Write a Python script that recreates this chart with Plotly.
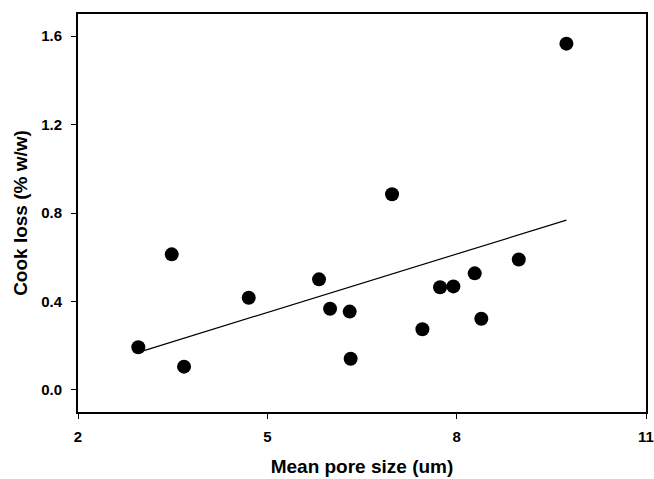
import numpy as np
import plotly.graph_objects as go

pore_size = [2.956, 3.485, 3.68, 4.705, 5.819, 5.994, 6.305, 6.32, 6.976,
             7.457, 7.737, 7.948, 8.286, 8.391, 8.984, 9.739]
cook_loss = [0.193, 0.613, 0.105, 0.417, 0.500, 0.367, 0.354, 0.141, 0.885,
             0.274, 0.464, 0.468, 0.527, 0.322, 0.590, 1.566]
x_ticks = [2, 5, 8, 11]
y_ticks = [0.0, 0.4, 0.8, 1.2, 1.6]
y_tick_text = ["0.0", "0.4", "0.8", "1.2", "1.6"]

slope, intercept = np.polyfit(pore_size, cook_loss, 1)
fit_x = [min(pore_size), max(pore_size)]
fit_y = [slope * v + intercept for v in fit_x]

font_family = "Liberation Sans, Arial, sans-serif"

fig = go.Figure()
fig.add_trace(go.Scatter(x=fit_x, y=fit_y, mode="lines",
                         line=dict(color="black", width=1.2),
                         showlegend=False, hoverinfo="skip"))
fig.add_trace(go.Scatter(x=pore_size, y=cook_loss, mode="markers",
                         marker=dict(color="black", size=14, line=dict(width=0)),
                         showlegend=False))

axis_common = dict(showline=True, linecolor="black", linewidth=2, mirror=True,
                   showgrid=False, zeroline=False, ticks="outside", ticklen=5,
                   tickwidth=1, tickcolor="black", automargin=False,
                   tickfont=dict(family=font_family, size=15, color="black", weight="bold"))

fig.update_layout(
    width=654, height=479,
    margin=dict(l=78, r=8, t=14, b=67),
    paper_bgcolor="white", plot_bgcolor="white",
    xaxis=dict(range=[2, 11], tickvals=x_ticks, ticklabelstandoff=5,
               title=dict(text="Mean pore size (um)", standoff=16,
                          font=dict(family=font_family, size=19, color="black", weight="bold")),
               **axis_common),
    yaxis=dict(range=[-0.1, 1.7], tickvals=y_ticks, ticktext=y_tick_text,
               ticklabelstandoff=6,
               title=dict(text="Cook loss (% w/w)", standoff=8,
                          font=dict(family=font_family, size=19, color="black", weight="bold")),
               **axis_common),
)

fig.write_html("out.html")
